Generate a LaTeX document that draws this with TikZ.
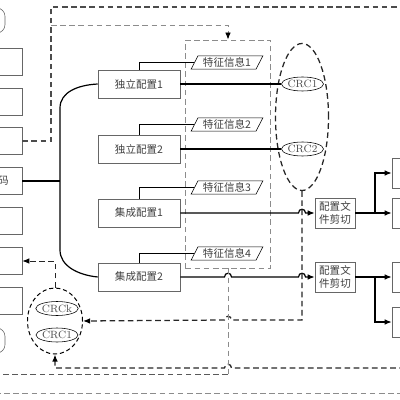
\documentclass[tikz,border=0pt]{standalone}
\usepackage{fontspec}
\newfontfamily\cjk{Noto Sans CJK SC}
\usetikzlibrary{shapes.geometric,arrows.meta,positioning,calc}

\begin{document}
\begin{tikzpicture}[x=0.025cm, y=-0.025cm,
    cjkfont/.style={font=\cjk\fontsize{7.5}{9.5}\selectfont, text=black!75},
    cfgbox/.style={draw=black!60, fill=white, minimum width=2.05cm, minimum height=0.7cm, inner sep=0pt, cjkfont},
    sidebox/.style={draw=black!60, fill=white, minimum width=1.55cm, minimum height=0.68cm, inner sep=0pt},
    cutbox/.style={draw=black!60, fill=white, minimum width=1cm, minimum height=0.75cm, inner sep=1pt, align=center, cjkfont},
    infobox/.style={draw, fill=white, trapezium, trapezium left angle=60, trapezium right angle=120, trapezium stretches=true, minimum width=1.8cm, minimum height=0.33cm, inner sep=0pt, cjkfont},
    crcbox/.style={draw, ellipse, fill=white, minimum width=1.02cm, minimum height=0.35cm, inner sep=0pt, font=\fontsize{7.5}{9}\selectfont, text=black!70},
    link/.style={line width=0.85pt},
    thinlink/.style={line width=0.5pt},
    dsh/.style={dash pattern=on 4pt off 2.5pt, line width=0.9pt, draw=black!85},
    gdsh/.style={dash pattern=on 4pt off 2.5pt, line width=0.6pt, draw=black!45},
    tip/.style={-{Latex[length=5pt,width=4pt,color=black]}}
]
    \useasboundingbox (0,0) rectangle (400,400);
    \clip (0,0) rectangle (400,400);

    % left column (cut off by the frame)
    \node[sidebox, rounded corners=6pt, minimum width=1.125cm, minimum height=0.63cm] (stop) at (-17.5,20.5) {};
    \foreach \i/\y in {1/61.5, 2/101.5, 3/141, 4/181, 5/221, 6/261, 7/301}
        \node[sidebox] (s\i) at (-9,\y) {};
    \node[cjkfont, inner sep=0pt] (s4t) at (3.5,181) {码};
    \node[sidebox, rounded corners=6pt, minimum width=1.125cm, minimum height=0.63cm] (sbot) at (-17.5,340.5) {};

    % dashed frame round the feature info
    \node[gdsh, draw, minimum width=2.125cm, minimum height=5.7cm, inner sep=0pt] (dbox) at (228,154) {};

    % configurations
    \node[cfgbox] (indep1) at (139,84) {独立配置1};
    \node[cfgbox] (indep2) at (139,149) {独立配置2};
    \node[cfgbox] (integ1) at (139,213) {集成配置1};
    \node[cfgbox] (integ2) at (139,277) {集成配置2};

    % feature info
    \node[infobox] (info1) at (227,62.5) {特征信息1};
    \node[infobox] (info2) at (227,124.5) {特征信息2};
    \node[infobox] (info3) at (227,187.5) {特征信息3};
    \node[infobox] (info4) at (227,253.5) {特征信息4};

    % check codes
    \node[draw, ellipse, dsh, minimum width=1.325cm, minimum height=3.675cm] (crcall) at (302,117) {};
    \node[crcbox] (crc1) at (302.5,84) {CRC1};
    \node[crcbox] (crc2) at (302.5,149) {CRC2};
    \node[draw, ellipse, dash pattern=on 3pt off 2pt, line width=0.7pt, minimum width=1.375cm, minimum height=1.65cm] (grp) at (55,321) {};
    \node[crcbox] (crck) at (57,308.5) {CRCk};
    \node[crcbox] (crcl) at (57,335) {CRC1};

    % cutting and targets
    \node[cutbox] (cut1) at (335,213) {配置文\\件剪切};
    \node[cutbox] (cut2) at (335,277) {配置文\\件剪切};
    \foreach \i/\y in {1/173, 2/213, 3/277, 4/322}
        \node[draw=black!60, minimum width=1cm, minimum height=0.75cm] (r\i) at (412,\y) {};
    \coordinate (j1) at (375,213);
    \coordinate (j2) at (375,277);

    % bus
    \coordinate (bus) at (60,181);
    \draw[link] (indep1.west) .. controls (78,85) and (60,92) .. (60,108) -- (60,250)
        .. controls (60,266) and (78,275) .. (integ2.west);
    \draw[link] (s4.east) -- (bus);

    % feature info links
    \draw[thinlink] (indep1.north) |- (info1.west);
    \draw[thinlink] (indep2.north) |- (info2.west);
    \draw[thinlink] (integ1.north) |- (info3.west);
    \draw[thinlink] (integ2.north) |- (info4.west);

    % links to check codes and cuts
    \draw[link] (indep1.east) -- (crc1.west);
    \draw[link] (indep2.east) -- (crc2.west);
    \draw[link, tip] (integ1.east) -- (298.5,213) .. controls (298.5,208) and (305.5,208) .. (305.5,213) -- (cut1.west);
    \draw[link, tip] (integ2.east) -- (224.5,277) .. controls (224.5,272) and (231.5,272) .. (231.5,277)
        -- (298.5,277) .. controls (298.5,272) and (305.5,272) .. (305.5,277) -- (cut2.west);
    \draw[link, tip] (cut1.east) -- (r2.west);
    \draw[link, tip] (j1) |- (r1.west);
    \draw[link, tip] (cut2.east) -- (r3.west);
    \draw[link, tip] (j2) |- (r4.west);

    % dashed feedback
    \coordinate (ctop) at (51,7);
    \coordinate (cgray) at (51,25);
    \draw[dsh, draw=black!70] (s3.east) -- (51,141) -- (ctop) -- (405,7);
    \draw[gdsh, tip] (cgray) -- (228,25) -- (dbox.north);
    \draw[dsh, tip] (crcall.south) -- (302,320) -- (231.5,320) .. controls (231.5,315) and (224.5,315) .. (224.5,320) -- (grp.east);
    \draw[dsh, tip, line width=0.7pt] (grp.north) |- (s6.east);
    \draw[dsh, tip] (405,368) -- (231.5,368) .. controls (231.5,363) and (224.5,363) .. (224.5,368) -- (55,368) -- (grp.south);
    \draw[gdsh] (dbox.south) -- (228,374);
    \draw[gdsh, draw=black!65] (228,374) -- (-5,374);
    \draw[gdsh] (-5,393) -- (405,393);
\end{tikzpicture}
\end{document}
